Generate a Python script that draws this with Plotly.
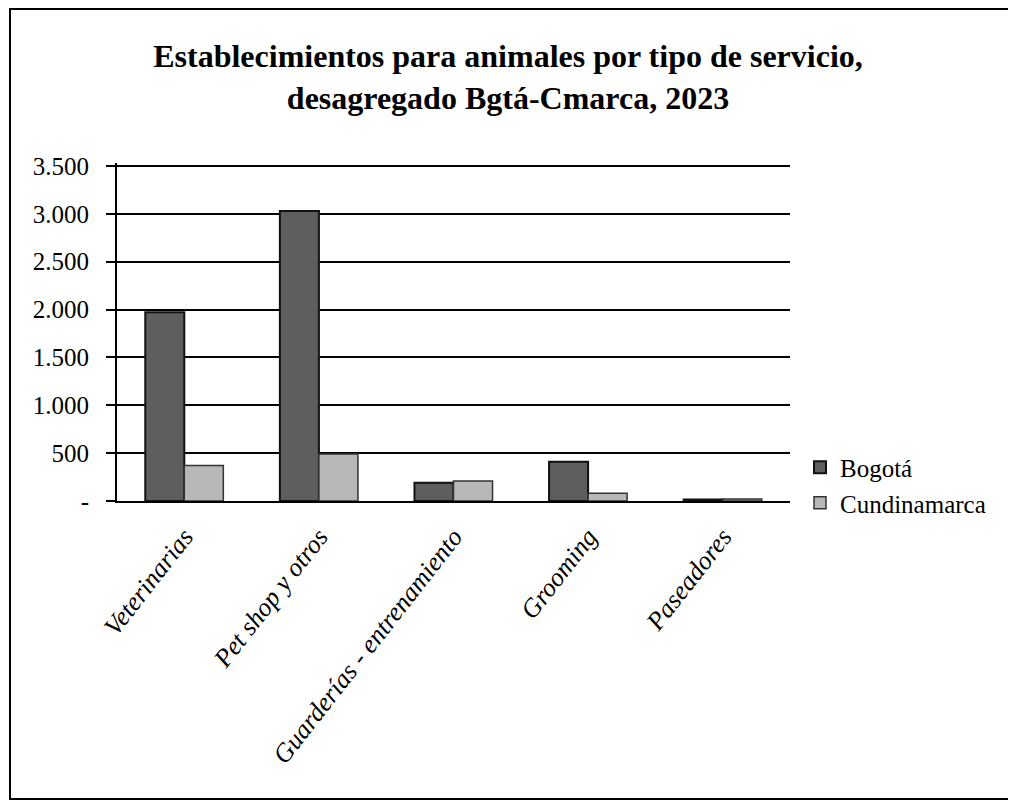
import plotly.graph_objects as go

categories = ["Veterinarias", "Pet shop y otros", "Guarderías - entrenamiento", "Grooming", "Paseadores"]
bogota = [1970, 3030, 190, 410, 15]
cundinamarca = [370, 490, 210, 80, 20]
tick_vals = [0, 500, 1000, 1500, 2000, 2500, 3000, 3500]
tick_text = ["-", "500", "1.000", "1.500", "2.000", "2.500", "3.000", "3.500"]
title_text = "Establecimientos para animales por tipo de servicio,<br>desagregado Bgtá-Cmarca, 2023"
y_max = 3530

serif = "Liberation Serif"

fig = go.Figure()
fig.add_trace(go.Bar(
    x=categories, y=bogota, name="Bogotá",
    marker=dict(color="#5e5e5e", line=dict(color="#111111", width=2)),
))
fig.add_trace(go.Bar(
    x=categories, y=cundinamarca, name="Cundinamarca",
    marker=dict(color="#b8b8b8", line=dict(color="#333333", width=1.5)),
))

OFF = 8  # page body margin
W, H = 1016, 804
y0_px, y3500_px = 501, 166
top_px = y0_px - (y0_px - y3500_px) * y_max / 3500.0
L = 117 - OFF
T = int(round(top_px - OFF))
R = W - (790 - OFF)
B = H - (y0_px - OFF)
pw, ph = W - L - R, H - T - B


def px(xs):
    return (xs - OFF - L) / pw


def py(ys):
    return (H - B - (ys - OFF)) / ph


fig.update_layout(
    width=W, height=H,
    margin=dict(l=L, r=R, t=T, b=B),
    paper_bgcolor="white", plot_bgcolor="white",
    barmode="group", bargap=0.42, bargroupgap=0.0,
    title=dict(
        text=title_text,
        x=(508 - OFF) / W, xanchor="center", y=1 - (67 - OFF) / H, yanchor="top",
        font=dict(family=serif, size=32, color="black", weight="bold"),
    ),
    font=dict(family=serif, color="black"),
    legend=dict(
        x=px(800), xanchor="left",
        y=py(485), yanchor="middle",
        font=dict(family=serif, size=25, color="black"),
        bgcolor="rgba(0,0,0,0)",
        itemwidth=30,
    ),
    xaxis=dict(
        showline=True, linecolor="black", linewidth=2,
        tickangle=-52, ticks="",
        tickfont=dict(family=serif, size=26, color="black", style="italic"),
        ticklabelstandoff=8,
        showgrid=False,
    ),
    yaxis=dict(
        range=[0, y_max], tickvals=tick_vals, ticktext=tick_text,
        showgrid=True, gridcolor="black", gridwidth=2,
        showline=True, linecolor="black", linewidth=2,
        ticks="outside", ticklen=9, tickcolor="black", tickwidth=2,
        tickfont=dict(family=serif, size=25, color="black"),
        ticklabelstandoff=12,
        zeroline=False,
    ),
    shapes=[dict(
        type="rect", xref="paper", yref="paper",
        x0=px(10), x1=px(1010),
        y0=py(799), y1=py(9),
        line=dict(color="black", width=2), fillcolor="rgba(0,0,0,0)", layer="below",
    )],
)

fig.write_html("out.html")
